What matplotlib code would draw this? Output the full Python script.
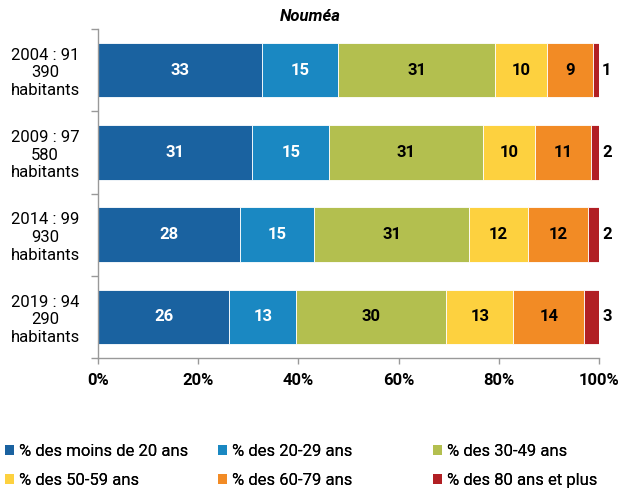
import matplotlib
matplotlib.use("Agg")
import matplotlib.pyplot as plt
from matplotlib.patches import Patch
import numpy as np

plt.rcParams['font.family'] = ['Roboto', 'DejaVu Sans']

categories = ["2004 : 91\n390\nhabitants", "2009 : 97\n580\nhabitants",
              "2014 : 99\n930\nhabitants", "2019 : 94\n290\nhabitants"]
series_names = ["% des moins de 20 ans", "% des 20-29 ans", "% des 30-49 ans",
                "% des 50-59 ans", "% des 60-79 ans", "% des 80 ans et plus"]
moins20 = [32.8, 30.8, 28.4, 26.2]
a20_29 = [15.2, 15.4, 14.8, 13.4]
a30_49 = [31.2, 30.6, 30.8, 29.9]
a50_59 = [10.4, 10.4, 11.8, 13.4]
a60_79 = [9.2, 11.2, 12.0, 14.2]
a80plus = [1.2, 1.6, 2.2, 2.9]
series = [moins20, a20_29, a30_49, a50_59, a60_79, a80plus]
colors = ["#1a62a0", "#1a88c2", "#b3bf4f", "#fdd13f", "#f28b25", "#b11f24"]
label_colors = ["white", "white", "black", "black", "black", "black"]
xticks = [0, 20, 40, 60, 80, 100]
xticklabels = ["0%", "20%", "40%", "60%", "80%", "100%"]

fig = plt.figure(figsize=(6.2, 4.93), dpi=100)
ax = fig.add_axes([98/620, 1-358/493, (599-98)/620, (358-29)/493])

y = np.arange(len(categories))
left = np.zeros(len(categories))
for i, vals in enumerate(series):
    vals = np.array(vals)
    ax.barh(y, vals, left=left, height=0.665, color=colors[i],
            edgecolor="white", linewidth=0.6)
    for j, v in enumerate(vals):
        lab = f"{int(round(v))}"
        if i == 5:
            ax.text(left[j] + v + 0.6, y[j], lab, ha="left", va="center",
                    fontsize=12, fontweight="bold", color="black")
        else:
            ax.text(left[j] + v/2, y[j], lab, ha="center", va="center",
                    fontsize=12, fontweight="bold", color=label_colors[i])
    left += vals

ax.set_xlim(0, 100)
ax.set_ylim(3.5, -0.5)
ax.set_yticks(y)
ax.set_yticklabels(categories, fontsize=12, linespacing=1.22, ha="center")
ax.tick_params(axis="y", length=0, pad=38)
ax.set_yticks([-0.5, 0.5, 1.5, 2.5, 3.5], minor=True)
ax.tick_params(axis="y", which="minor", length=5, color="#999999", width=1)
ax.set_xticks(xticks)
ax.set_xticklabels(xticklabels, fontsize=12, fontweight="bold")
ax.tick_params(axis="x", length=4, color="#999999", width=1, pad=7)
for s in ["top", "right"]:
    ax.spines[s].set_visible(False)
for s in ["left", "bottom"]:
    ax.spines[s].set_color("#999999")
    ax.spines[s].set_linewidth(1)

fig.text(0.5, 1-21/493, "Nouméa", fontsize=12, fontweight="bold",
         style="italic", ha="center", va="baseline")

colx = [5/620, 218/620, 433/620]
for c in range(3):
    idxs = [c, c + 3]
    handles = [Patch(facecolor=colors[k], edgecolor="none") for k in idxs]
    leg = fig.legend(handles, [series_names[k] for k in idxs],
                     loc="upper left", bbox_to_anchor=(colx[c], 1-444/493),
                     frameon=False, fontsize=12, handlelength=0.55,
                     handleheight=0.55, handletextpad=0.3, labelspacing=0.85,
                     borderpad=0, borderaxespad=0)
    fig.add_artist(leg)

fig.savefig("out.png", dpi=100)
